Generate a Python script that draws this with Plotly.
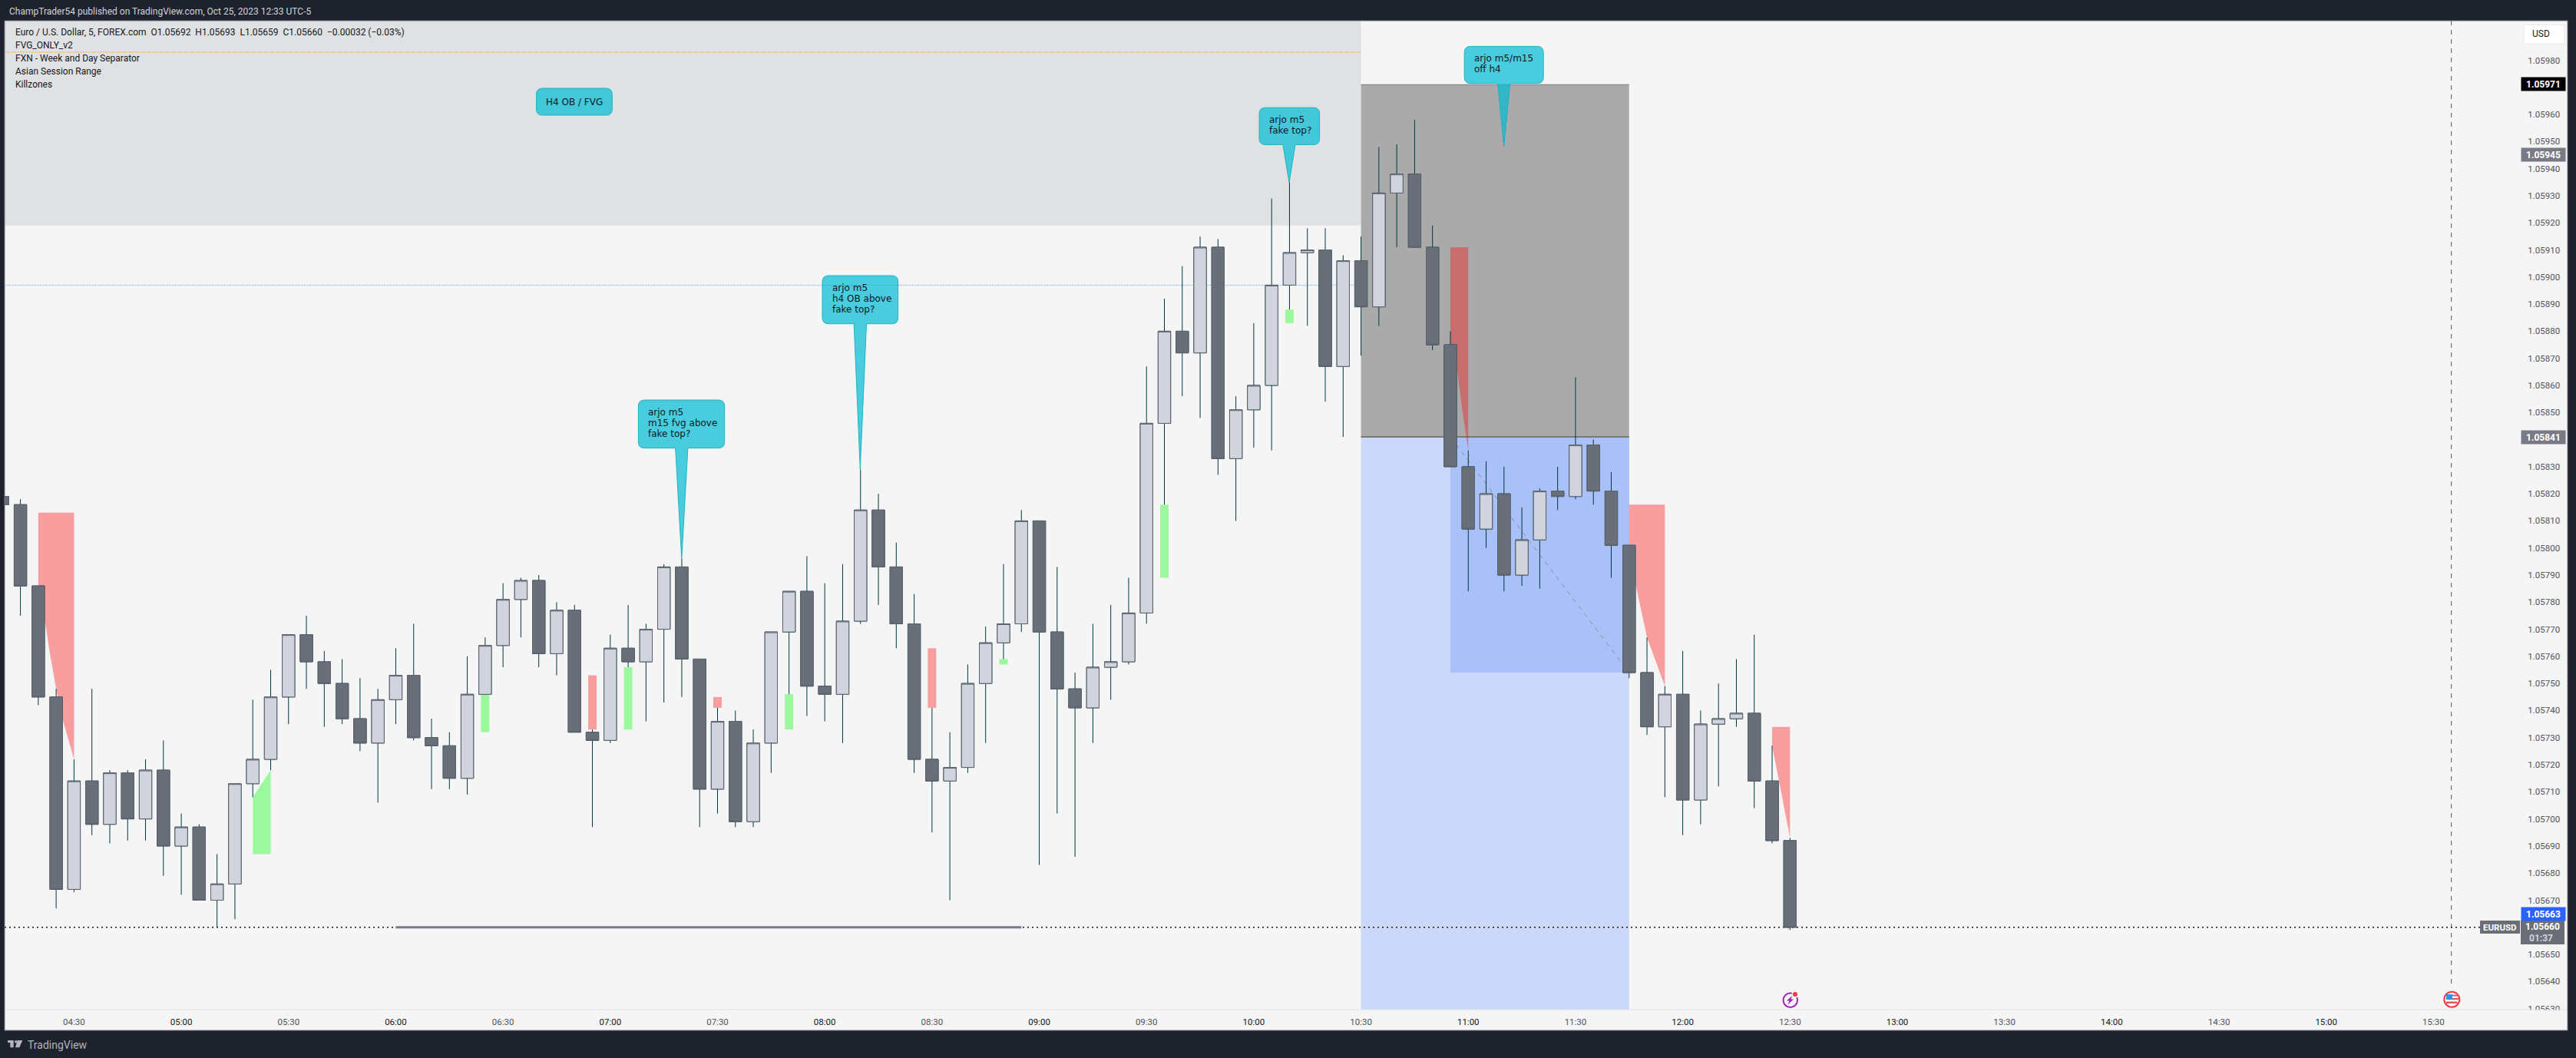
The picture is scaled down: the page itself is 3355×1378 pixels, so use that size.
import plotly.graph_objects as go

W, H = 3355, 1378
PLOT_L, PLOT_R, PLOT_T, PLOT_B, PANEL_R, PANEL_B = 6, 3283, 27, 1315, 3344, 1342
BAR0_PX, BAR_PX = 3.3, 23.28
PX_PER_PRICE = 352900
Y_MAX = 1.0598 + (78.5 - PLOT_T) / PX_PER_PRICE
Y_MIN = Y_MAX - (PLOT_B - PLOT_T) / PX_PER_PRICE

times = ["04:10","04:15","04:20","04:25","04:30","04:35","04:40","04:45","04:50","04:55","05:00","05:05",
         "05:10","05:15","05:20","05:25","05:30","05:35","05:40","05:45","05:50","05:55","06:00","06:05",
         "06:10","06:15","06:20","06:25","06:30","06:35","06:40","06:45","06:50","06:55","07:00","07:05",
         "07:10","07:15","07:20","07:25","07:30","07:35","07:40","07:45","07:50","07:55","08:00","08:05",
         "08:10","08:15","08:20","08:25","08:30","08:35","08:40","08:45","08:50","08:55","09:00","09:05",
         "09:10","09:15","09:20","09:25","09:30","09:35","09:40","09:45","09:50","09:55","10:00","10:05",
         "10:10","10:15","10:20","10:25","10:30","10:35","10:40","10:45","10:50","10:55","11:00","11:05",
         "11:10","11:15","11:20","11:25","11:30","11:35","11:40","11:45","11:50","11:55","12:00","12:05",
         "12:10","12:15","12:20","12:25","12:30"]
opens = [1.05819,1.05816,1.05786,1.05745,1.05674,1.05714,1.05698,1.05717,1.05700,1.05718,1.05690,1.05697,
         1.05670,1.05676,1.05713,1.05722,1.05745,1.05768,1.05758,1.05750,1.05737,1.05728,1.05744,1.05753,
         1.05730,1.05727,1.05715,1.05746,1.05764,1.05781,1.05788,1.05761,1.05777,1.05732,1.05729,1.05763,
         1.05758,1.05770,1.05793,1.05759,1.05711,1.05736,1.05699,1.05728,1.05769,1.05784,1.05749,1.05746,
         1.05773,1.05814,1.05793,1.05772,1.05722,1.05714,1.05719,1.05750,1.05765,1.05772,1.05810,1.05769,
         1.05748,1.05741,1.05756,1.05758,1.05776,1.05846,1.05880,1.05872,1.05911,1.05833,1.05851,1.05860,
         1.05897,1.05909,1.05910,1.05867,1.05906,1.05889,1.05931,1.05938,1.05911,1.05875,1.05830,1.05807,
         1.05820,1.05790,1.05803,1.05821,1.05819,1.05838,1.05821,1.05801,1.05754,1.05734,1.05746,1.05707,
         1.05735,1.05737,1.05739,1.05714,1.05692]
highs = [1.05822,1.05818,1.05786,1.05748,1.05722,1.05748,1.05718,1.05718,1.05722,1.05729,1.05702,1.05698,
         1.05687,1.05713,1.05744,1.05755,1.05768,1.05775,1.05762,1.05759,1.05752,1.05748,1.05763,1.05772,
         1.05737,1.05732,1.05760,1.05767,1.05787,1.05789,1.05790,1.05780,1.05779,1.05733,1.05768,1.05779,
         1.05772,1.05794,1.05796,1.05759,1.05741,1.05740,1.05733,1.05769,1.05784,1.05797,1.05787,1.05794,
         1.05829,1.05820,1.05802,1.05783,1.05741,1.05732,1.05757,1.05771,1.05794,1.05814,1.05810,1.05793,
         1.05754,1.05772,1.05779,1.05789,1.05867,1.05892,1.05904,1.05915,1.05914,1.05856,1.05883,1.05929,
         1.05935,1.05918,1.05918,1.05908,1.05915,1.05948,1.05949,1.05958,1.05919,1.05880,1.05836,1.05832,
         1.05830,1.05815,1.05822,1.05830,1.05863,1.05840,1.05828,1.05801,1.05767,1.05749,1.05762,1.05740,
         1.05750,1.05759,1.05768,1.05727,1.05693]
lows = [1.05816,1.05775,1.05742,1.05667,1.05673,1.05694,1.05691,1.05692,1.05692,1.05679,1.05672,1.05670,
        1.05660,1.05663,1.05708,1.05718,1.05735,1.05748,1.05734,1.05735,1.05725,1.05706,1.05735,1.05729,
        1.05711,1.05711,1.05709,1.05746,1.05756,1.05767,1.05756,1.05753,1.05732,1.05697,1.05728,1.05756,
        1.05736,1.05743,1.05745,1.05697,1.05702,1.05697,1.05697,1.05717,1.05746,1.05738,1.05736,1.05728,
        1.05772,1.05779,1.05763,1.05717,1.05695,1.05670,1.05717,1.05728,1.05759,1.05769,1.05683,1.05702,
        1.05686,1.05728,1.05744,1.05757,1.05772,1.05816,1.05856,1.05848,1.05827,1.05810,1.05837,1.05836,
        1.05888,1.05882,1.05854,1.05841,1.05871,1.05882,1.05911,1.05911,1.05873,1.05830,1.05784,1.05800,
        1.05784,1.05786,1.05785,1.05814,1.05818,1.05816,1.05789,1.05752,1.05731,1.05708,1.05694,1.05698,
        1.05712,1.05734,1.05704,1.05691,1.05659]
closes = [1.05816,1.05786,1.05745,1.05674,1.05714,1.05698,1.05717,1.05700,1.05718,1.05690,1.05697,1.05670,
          1.05676,1.05713,1.05722,1.05745,1.05768,1.05758,1.05750,1.05737,1.05728,1.05744,1.05753,1.05730,
          1.05727,1.05715,1.05746,1.05764,1.05781,1.05788,1.05761,1.05777,1.05732,1.05729,1.05763,1.05758,
          1.05770,1.05793,1.05759,1.05711,1.05736,1.05699,1.05728,1.05769,1.05784,1.05749,1.05746,1.05773,
          1.05814,1.05793,1.05772,1.05722,1.05714,1.05719,1.05750,1.05765,1.05772,1.05810,1.05769,1.05748,
          1.05741,1.05756,1.05758,1.05776,1.05846,1.05880,1.05872,1.05911,1.05833,1.05851,1.05860,1.05897,
          1.05909,1.05910,1.05867,1.05906,1.05889,1.05931,1.05938,1.05911,1.05875,1.05830,1.05807,1.05820,
          1.05790,1.05803,1.05821,1.05819,1.05838,1.05821,1.05801,1.05754,1.05734,1.05746,1.05707,1.05735,
          1.05737,1.05739,1.05714,1.05692,1.05660]

# time-axis labels
xtick_labels = ["04:30","05:00","05:30","06:00","06:30","07:00","07:30","08:00","08:30","09:00","09:30","10:00",
                "10:30","11:00","11:30","12:00","12:30","13:00","13:30","14:00","14:30","15:00","15:30"]
ytick_values = [1.05630,1.05640,1.05650,1.05660,1.05670,1.05680,1.05690,1.05700,1.05710,1.05720,1.05730,1.05740,
                1.05750,1.05760,1.05770,1.05780,1.05790,1.05800,1.05810,1.05820,1.05830,1.05840,1.05850,1.05860,
                1.05870,1.05880,1.05890,1.05900,1.05910,1.05920,1.05930,1.05940,1.05950,1.05960,1.05970,1.05980]

# drawn levels and zones
OB_BAND_BOTTOM = 1.05919
ORANGE_LEVEL = 1.05983
BLUE_LEVEL = 1.05897
LAST_PRICE = 1.05660
BOX_TOP, BOX_MID, BOX_STOP = 1.05971, 1.05841, 1.05754
BOX_START, BOX_INNER, BOX_END = "10:30", "10:55", "11:45"
SWEEP_START, SWEEP_END = "06:00", "08:55"

# narrow imbalance rectangles
rect_time = ["06:25","06:55","07:05","07:30","07:50","08:30","08:50","09:35","10:10"]
rect_top = [1.05746,1.05753,1.05756,1.05745,1.05746,1.05763,1.05759,1.05816,1.05888]
rect_bot = [1.05732,1.05733,1.05733,1.05741,1.05733,1.05741,1.05757,1.05789,1.05883]
rect_kind = ["up","down","up","down","up","down","up","up","up"]

# wedge-shaped gaps: bar offsets and prices
gap1_x = [2,4,4,3.35,3.0,2.65,2.4,2]
gap1_y = [1.05813,1.05813,1.05722,1.05737,1.05748,1.05761,1.05772,1.05785]
gap2_x = [14,15,15,14]
gap2_y = [1.05708,1.05718,1.05687,1.05687]
gap3_x = [81,82,82,81.6,81.3,81]
gap3_y = [1.05911,1.05911,1.05836,1.05854,1.05870,1.05875]
gap4_x = [91,93,93,92,91.35,91]
gap4_y = [1.05816,1.05816,1.05749,1.05767,1.05787,1.05801]
gap5_x = [99,100,100,99]
gap5_y = [1.05734,1.05734,1.05693,1.05727]

legend_lines = ["Euro / U.S. Dollar, 5, FOREX.com  O1.05692  H1.05693  L1.05659  C1.05660  −0.00032 (−0.03%)",
                "FVG_ONLY_v2","FXN - Week and Day Separator","Asian Session Range","Killzones"]
callouts = [
    (["arjo m5","m15 fvg above","fake top?"], 831.4, 943.6, 521, 583.6, 879.7, 895.9, 887.8, 727.7),
    (["arjo m5","h4 OB above","fake top?"], 1071, 1169.6, 359, 421.7, 1112.2, 1128.5, 1120.3, 611),
    (["arjo m5","fake top?"], 1640, 1718.6, 140.2, 188.4, 1670.9, 1687, 1679, 237.8),
    (["arjo m5/m15","off h4"], 1907.2, 2010.2, 60.4, 108.6, 1950.5, 1966.8, 1958.7, 190.7),
]

idx = {t: i for i, t in enumerate(times)}
xs = list(range(len(times)))
px = lambda v: v / W
py = lambda v: 1 - v / H
DARK, UP_FILL, DN_FILL, EDGE, WICK = "#1e222d", "#d1d4dc", "#696e78", "#5d6470", "#00363a"
BG = "#f5f5f5"
PINK, GREEN = "rgba(255,5,5,0.36)", "rgba(0,255,0,0.36)"
SANS = "Roboto, sans-serif"

fig = go.Figure()
fig.add_trace(go.Candlestick(x=xs, open=opens, high=highs, low=lows, close=closes, whiskerwidth=0,
    increasing=dict(line=dict(color=WICK, width=1), fillcolor=UP_FILL),
    decreasing=dict(line=dict(color=WICK, width=1), fillcolor=DN_FILL), hoverinfo="skip", showlegend=False))
body_top = [max(o, c) for o, c in zip(opens, closes)]
body_bot = [min(o, c) for o, c in zip(opens, closes)]
fig.add_trace(go.Candlestick(x=xs, open=opens, high=body_top, low=body_bot, close=closes, whiskerwidth=0,
    increasing=dict(line=dict(color=EDGE, width=1), fillcolor=UP_FILL),
    decreasing=dict(line=dict(color=EDGE, width=1), fillcolor=DN_FILL), hoverinfo="skip", showlegend=False))

shapes = []
def pshape(x0, y0, x1, y1, fill, layer="below", line=None, kind="rect"):
    shapes.append(dict(type=kind, xref="paper", yref="paper", x0=px(x0), x1=px(x1), y0=py(y0), y1=py(y1),
                       fillcolor=fill, layer=layer, line=line or dict(width=0)))
def drect(x0, x1, y0, y1, fill):
    shapes.append(dict(type="rect", xref="x", yref="y", x0=x0, x1=x1, y0=y0, y1=y1, fillcolor=fill,
                       layer="below", line=dict(width=0)))
def dline(x0, x1, y0, y1, color, width, dash="solid"):
    shapes.append(dict(type="line", xref="x", yref="y", x0=x0, x1=x1, y0=y0, y1=y1, layer="below",
                       line=dict(color=color, width=width, dash=dash)))
def dpoly(xv, yv, fill):
    path = "M" + " L".join(f"{a},{b}" for a, b in zip(xv, yv)) + " Z"
    shapes.append(dict(type="path", xref="x", yref="y", path=path, fillcolor=fill, layer="below", line=dict(width=0)))
def ppoly(points, fill, layer="above", line=None):
    path = "M" + " L".join(f"{px(a)},{py(b)}" for a, b in points) + " Z"
    shapes.append(dict(type="path", xref="paper", yref="paper", path=path, fillcolor=fill, layer=layer,
                       line=line or dict(width=0)))

# panels of the axes
pshape(PLOT_R, PLOT_T, PANEL_R, PANEL_B, BG)
pshape(PLOT_L, PLOT_B, PANEL_R, PANEL_B, BG)

xmin = (PLOT_L - BAR0_PX) / BAR_PX
xmax = (PLOT_R - BAR0_PX) / BAR_PX
i0, i1, i2 = idx[BOX_START], idx[BOX_INNER], idx[BOX_END]
drect(xmin, i0, OB_BAND_BOTTOM, Y_MAX, "#e0e1e3")
dline(xmin, i0, ORANGE_LEVEL, ORANGE_LEVEL, "#ff9800", 1, "1px,1px")
dline(xmin, i0, BLUE_LEVEL, BLUE_LEVEL, "#64b5f6", 1, "1px,1px")
drect(i0, i2, BOX_MID, BOX_TOP, "#aaaaaa")
drect(i0, i2, Y_MIN, BOX_MID, "#cbd8f9")
drect(i1, i2, BOX_STOP, BOX_MID, "#a9c0f8")
dline(i0, i2, BOX_TOP, BOX_TOP, "#787878", 1)
dline(i0, i2, BOX_MID, BOX_MID, "#787878", 2)
dline(i1, i2, BOX_MID, BOX_STOP, "#8a8c96", 1, "6px,6px")
dline(xmin, (3230 - BAR0_PX) / BAR_PX, LAST_PRICE, LAST_PRICE, "#131722", 1.5, "2px,4px")
dline(idx[SWEEP_START], idx[SWEEP_END], LAST_PRICE, LAST_PRICE, "#787b86", 3)
for t, a, b, k in zip(rect_time, rect_top, rect_bot, rect_kind):
    drect(idx[t] - 0.235, idx[t] + 0.235, b, a, GREEN if k == "up" else PINK)
dpoly(gap1_x, gap1_y, PINK)
dpoly(gap2_x, gap2_y, GREEN)
dpoly(gap3_x, gap3_y, PINK)
dpoly(gap4_x, gap4_y, PINK)
dpoly(gap5_x, gap5_y, PINK)
# event marker line
shapes.append(dict(type="line", xref="x", yref="paper", x0=137, x1=137, y0=py(27), y1=py(1287), layer="below",
                   line=dict(color="#555555", width=1, dash="6px,6px")))

annos = []
def text(x, y, s, size=12, color="#131722", family=SANS, anchor="left", **kw):
    annos.append(dict(xref="paper", yref="paper", x=px(x), y=py(y), text=s, showarrow=False, xanchor=anchor,
                      yanchor="middle", align=anchor, font=dict(size=size, color=color, family=family), **kw))

def bubble(l, r, t, b, bl=None, br=None, tx=None, ty=None, rad=8):
    q = lambda x, y: f"{px(x)},{py(y)}"
    p = f"M{q(l+rad,t)} L{q(r-rad,t)} Q{q(r,t)} {q(r,t+rad)} L{q(r,b-rad)} Q{q(r,b)} {q(r-rad,b)} "
    if bl is not None:
        p += f"L{q(br,b)} L{q(tx,ty)} L{q(bl,b)} "
    p += f"L{q(l+rad,b)} Q{q(l,b)} {q(l,b-rad)} L{q(l,t+rad)} Q{q(l,t)} {q(l+rad,t)} Z"
    shapes.append(dict(type="path", xref="paper", yref="paper", path=p, fillcolor="rgba(0,188,212,0.7)", layer="above",
                       line=dict(color="#1db4bf", width=1)))

bubble(698.6, 797.3, 115, 150)
text(748, 132.5, "H4 OB / FVG", size=12, family="DejaVu Sans", anchor="center")
for lines, l, r, t, b, bl, br, tx, ty in callouts:
    bubble(l, r, t, b, bl, br, tx, ty)
    for n, s in enumerate(lines):
        text(l + 10.5, t + 16 + n * 13.8, s, size=12, family="DejaVu Sans")

# cover under the clipped lowest scale label, axis frame
pshape(PLOT_R, 1316, PANEL_R - 1, PANEL_B - 1, BG, layer="above")
shapes.append(dict(type="line", xref="paper", yref="paper", x0=px(PLOT_L), x1=px(PANEL_R), y0=py(PLOT_B), y1=py(PLOT_B),
                   layer="above", line=dict(color="#e0e3eb", width=1)))
pshape(PLOT_L, PLOT_T, PANEL_R, PANEL_B, "rgba(0,0,0,0)", layer="above", line=dict(color="#787b86", width=1))

# header, legend, footer
text(10, 15, "ChampTrader54 published on TradingView.com, Oct 25, 2023 12:33 UTC-5", size=12, color="#d1d4dc")
for n, s in enumerate(legend_lines):
    text(18, 42 + n * 17, s, size=12, color="#131722")
text(34, 1361, "TradingView", size=14, color="#b2b5be")
ppoly([(10, 1355), (17.7, 1355), (17.7, 1364.3), (13.3, 1364.3), (13.3, 1358), (10, 1358)], "#b2b5be", layer="below")
pshape(19, 1355, 22.5, 1358.5, "#b2b5be", kind="circle")
ppoly([(22.7, 1355), (29.3, 1355), (25.3, 1364.3), (20, 1364.3)], "#b2b5be", layer="below")

# scale panel labels
def label(y, s, bg, color="#ffffff"):
    annos.append(dict(xref="paper", yref="paper", x=px(PLOT_R), y=py(y), text=f"<b>{s}</b>", showarrow=False,
                      xanchor="left", yanchor="middle", width=57, height=17, bgcolor=bg, borderpad=0, align="center",
                      font=dict(size=12, color=color, family=SANS)))
label(110, "1.05971", "#000000")
label(202, "1.05945", "#787b86")
label(569, "1.05841", "#787b86")
label(1190.5, "1.05663", "#2962ff")
pshape(PLOT_R, 1199, 3340, 1230, "#696e77", layer="above")
text(3311.5, 1207, "<b>1.05660</b>", size=12, color="#ffffff", anchor="center")
text(3292, 1221.5, "<b>01:37</b>", size=12, color="#d1d4dc")
pshape(3230, 1199, 3282, 1216, "#696e77", layer="above")
text(3256, 1207.5, "<b>EURUSD</b>", size=11.5, color="#ffffff", anchor="center")
pshape(3287, 32, 3340, 57, "#ffffff", line=dict(color="#e8e8ee", width=1))
text(3296, 44.5, "USD", size=12, color="#131722")

# event icons
pshape(2322.5, 1293.5, 2341, 1312, "rgba(0,0,0,0)", layer="above", line=dict(color="#9c27b0", width=2), kind="circle")
ppoly([(2334, 1297), (2327, 1303.5), (2330.5, 1303.5), (2328.5, 1308.5), (2336, 1301.5), (2332.5, 1301.5)], "#9c27b0")
pshape(2333.5, 1290.5, 2342.5, 1299.5, BG, layer="above", kind="circle")
pshape(2335, 1292, 2341, 1298, "#f23645", layer="above", kind="circle")
pshape(3183.3, 1291.7, 3203.3, 1311.7, "#ffffff", layer="above", line=dict(color="#f23645", width=2), kind="circle")
pshape(3186, 1295, 3194, 1302, "#2196f3", layer="above")
pshape(3194, 1295.5, 3201, 1297.5, "#ef5350", layer="above")
pshape(3194, 1300, 3202, 1302, "#ef5350", layer="above")
pshape(3186, 1304.5, 3200.5, 1307, "#ef5350", layer="above")

tick_hour = [f'<span style="color:#131722">{t}</span>' if t.endswith(":00") else t for t in xtick_labels]
tick_x = [(int(t[:2]) * 60 + int(t[3:]) - 250) / 5 for t in xtick_labels]

fig.update_layout(
    width=W, height=H, margin=dict(l=0, r=0, t=0, b=0, autoexpand=False), paper_bgcolor=DARK, plot_bgcolor=BG,
    showlegend=False, dragmode=False, shapes=shapes, annotations=annos, boxmode="overlay", boxgap=0.0,
    xaxis=dict(domain=[px(PLOT_L), px(PLOT_R)], range=[xmin, xmax], tickvals=tick_x, ticktext=tick_hour,
               showgrid=False, zeroline=False, showline=False, rangeslider=dict(visible=False), ticks="outside",
               ticklen=5, tickcolor="rgba(0,0,0,0)", tickfont=dict(size=11.5, color="#50535e", family=SANS), tickangle=0,
               anchor="y"),
    yaxis=dict(domain=[py(PLOT_B), py(PLOT_T)], range=[Y_MIN, Y_MAX], side="right", tickvals=ytick_values,
               ticktext=[f"{v:.5f}" for v in ytick_values], showgrid=False, zeroline=False, showline=False,
               ticks="outside", ticklen=6, tickcolor="rgba(0,0,0,0)",
               tickfont=dict(size=11.5, color="#50535e", family=SANS), anchor="x"),
)
fig.write_html("out.html", config=dict(displayModeBar=False, staticPlot=True),
               post_script="document.body.style.margin='0';")
